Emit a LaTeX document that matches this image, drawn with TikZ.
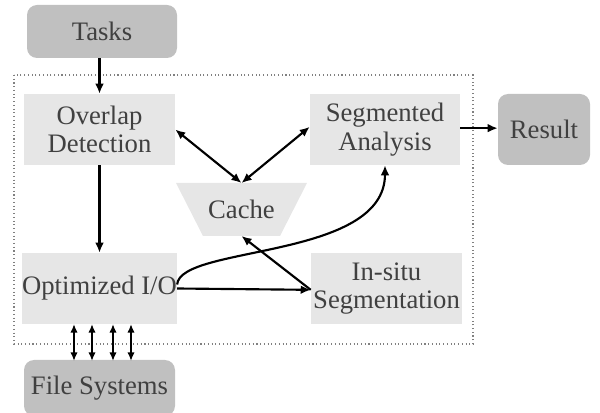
\documentclass[tikz,border=0pt]{standalone}
\usepackage{fontspec}
\setmainfont{Liberation Serif}
\usetikzlibrary{arrows.meta}
\definecolor{txt}{HTML}{404040}
\definecolor{darkbox}{HTML}{C0C0C0}
\definecolor{lightbox}{HTML}{E6E6E6}
\begin{document}
\begin{tikzpicture}[x=0.75pt,y=-0.75pt,
  every node/.style={font=\fontsize{20}{21.5}\selectfont, text=txt, align=center, inner sep=0pt},
  outbox/.style={fill=darkbox, rounded corners=7.5pt},
  inbox/.style={fill=lightbox},
  arr/.style={-{Latex[length=7.5pt,width=6.5pt]}, line width=1.6pt},
  darr/.style={{Latex[length=7.5pt,width=6.5pt]}-{Latex[length=7.5pt,width=6.5pt]}, line width=1.6pt},
  sdarr/.style={{Latex[length=6.5pt,width=5.5pt]}-{Latex[length=6.5pt,width=5.5pt]}, line width=1.4pt}]
\useasboundingbox (0,0) rectangle (600,413);
% frame
\draw[gray, dotted, line width=0.8pt] (14,75) rectangle (473,344);
% boxes
\node[outbox, minimum width=112.5pt, minimum height=39.75pt] (tasks) at (102,31.5) {Tasks};
\node[inbox, minimum width=113.25pt, minimum height=53.25pt] (overlap) at (99.5,129.5) {Overlap\\Detection};
\node[inbox, minimum width=112.5pt, minimum height=53.25pt] (seg) at (385,129.5) {Segmented\\Analysis};
\node[outbox, minimum width=69pt, minimum height=53.25pt] (result) at (544,129.5) {Result};
\node[inbox, minimum width=113.25pt, minimum height=53.25pt] (opt) at (99.5,288.5) {Optimized I/O};
\node[inbox, minimum width=113.25pt, minimum height=53.25pt] (insitu) at (386.5,288.5) {In-situ\\Segmentation};
\node[outbox, minimum width=113.25pt, minimum height=42pt] (fs) at (99.5,388) {File Systems};
% cache trapezoid
\fill[lightbox] (176,183) -- (307,183) -- (280,236) -- (203,236) -- cycle;
\node (cache) at (241.5,209.5) {Cache};
\coordinate (ctop) at (241.5,183);
\coordinate (cbot) at (241.5,236);
% connectors
\draw[arr] (overlap.north |- tasks.south) -- (overlap.north);
\draw[arr] (overlap.south) -- (opt.north);
\draw[darr] (overlap.east) -- (ctop);
\draw[darr] ([yshift=2pt]seg.west) -- (ctop);
\draw[arr] ([yshift=1pt]seg.east) -- ([yshift=1pt]result.west);
\draw[arr] (opt.east) -- ([yshift=-1pt]insitu.west);
\draw[arr] ([yshift=-1pt]insitu.west) -- (cbot);
\draw[arr] ([yshift=3pt]opt.east) .. controls (180,245) and (385,260) .. (seg.south);
\foreach \x in {74,92,113,131} {
  \draw[sdarr] (\x,324) -- (\x,361);
}
\end{tikzpicture}
\end{document}
